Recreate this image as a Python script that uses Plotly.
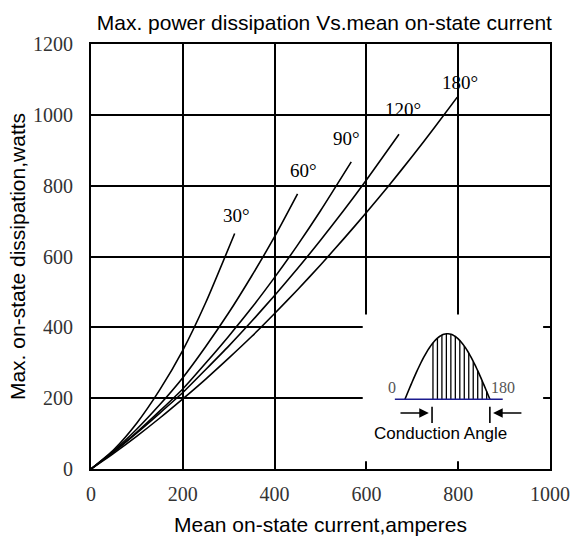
import numpy as np
import plotly.graph_objects as go

# ---- data ----
x_30 = [0, 50, 100, 150, 200, 250, 313]
y_30 = [0, 55, 130, 224, 335, 470, 665]

x_60 = [0, 50, 100, 150, 200, 250, 300, 350, 400, 450]
y_60 = [0, 52, 113, 182, 258, 346, 441, 545, 656, 777]

x_90 = [0, 50, 100, 150, 200, 250, 300, 350, 400, 450, 500, 567]
y_90 = [0, 49, 104, 164, 226, 299, 375, 455, 541, 632, 729, 867]

x_120 = [0, 50, 100, 150, 200, 250, 300, 350, 400, 450, 500, 550, 600, 671]
y_120 = [0, 49, 102, 158, 216, 281, 347, 417, 490, 566, 646, 729, 816, 945]

x_180 = [0, 50, 100, 150, 200, 250, 300, 350, 400, 450, 500, 550, 600, 650, 700, 750, 798]
y_180 = [0, 45, 93, 144, 198, 254, 313, 374, 439, 506, 576, 649, 724, 802, 883, 967, 1050]

curve_names = ["30°", "60°", "90°", "120°", "180°"]
label_x = [317, 462, 557, 680, 804]
label_y = [716, 844, 934, 1014, 1090]

x_ticks = [0, 200, 400, 600, 800, 1000]
y_ticks = [0, 200, 400, 600, 800, 1000, 1200]

series = [(x_30, y_30), (x_60, y_60), (x_90, y_90), (x_120, y_120), (x_180, y_180)]

SERIF = "Liberation Serif"
SANS = "Liberation Sans"

fig = go.Figure()
for (xs, ys), name in zip(series, curve_names):
    fig.add_trace(go.Scatter(x=xs, y=ys, mode="lines", name=name,
                             line=dict(color="black", width=1.6, shape="spline", smoothing=0.6),
                             showlegend=False, hoverinfo="x+y+name"))

annotations = []
for name, lx, ly in zip(curve_names, label_x, label_y):
    annotations.append(dict(x=lx, y=ly, xref="x", yref="y", text=name, showarrow=False,
                            font=dict(family=SERIF, size=19, color="black")))

# ---- inset diagram (conduction angle) ----
shapes = []
shapes.append(dict(type="rect", xref="x", yref="y", x0=592, x1=985, y0=22, y1=436,
                   fillcolor="white", line=dict(width=0), layer="above"))
# half-sine hump
hx0, hx1, hbase, hpeak = 684, 869, 197, 382
t = np.linspace(0, np.pi, 60)
px = hx0 + (hx1 - hx0) * t / np.pi
py = hbase + (hpeak - hbase) * np.sin(t)
path = "M " + " L ".join(f"{a:.2f},{b:.2f}" for a, b in zip(px, py))
shapes.append(dict(type="path", xref="x", yref="y", path=path,
                   line=dict(color="black", width=1.6), layer="above"))
# hatch lines
for hx in np.linspace(745, 862, 13):
    th = (hx - hx0) / (hx1 - hx0) * np.pi
    top = hbase + (hpeak - hbase) * np.sin(th)
    shapes.append(dict(type="line", xref="x", yref="y", x0=hx, x1=hx, y0=hbase, y1=top,
                       line=dict(color="black", width=1.3), layer="above"))
# base line
shapes.append(dict(type="line", xref="x", yref="y", x0=662, x1=897, y0=hbase, y1=hbase,
                   line=dict(color="#1c1c8f", width=1.6), layer="above"))
# bars for conduction angle
for bx in (743, 869):
    shapes.append(dict(type="line", xref="x", yref="y", x0=bx, x1=bx, y0=130, y1=176,
                       line=dict(color="black", width=1.6), layer="above"))

# arrows
annotations.append(dict(x=736, y=158, ax=671, ay=158, xref="x", yref="y", axref="x", ayref="y",
                        text="", showarrow=True, arrowhead=2, arrowsize=1.2, arrowwidth=1.6,
                        arrowcolor="black"))
annotations.append(dict(x=876, y=158, ax=941, ay=158, xref="x", yref="y", axref="x", ayref="y",
                        text="", showarrow=True, arrowhead=2, arrowsize=1.2, arrowwidth=1.6,
                        arrowcolor="black"))
annotations.append(dict(x=655, y=229, xref="x", yref="y", text="0", showarrow=False,
                        font=dict(family=SERIF, size=16, color="#555555")))
annotations.append(dict(x=898, y=229, xref="x", yref="y", text="180", showarrow=False,
                        font=dict(family=SERIF, size=16, color="#555555")))
annotations.append(dict(x=762, y=101, xref="x", yref="y", text="Conduction Angle", showarrow=False,
                        font=dict(family=SANS, size=17, color="black")))

axis_common = dict(showgrid=True, gridcolor="black", gridwidth=1.8, zeroline=False,
                   showline=True, linecolor="black", linewidth=2, mirror=True, ticks="",
                   automargin=False,
                   tickfont=dict(family=SERIF, size=20, color="#333333"))

fig.update_layout(
    template="none",
    width=572, height=538,
    font=dict(family=SERIF, color="black"),
    margin=dict(l=91, r=22, t=44, b=69),
    paper_bgcolor="white", plot_bgcolor="white",
    title=dict(text="Max. power dissipation Vs.mean on-state current",
               font=dict(family=SANS, size=21, color="black"),
               x=0.567, xanchor="center", y=0.957, yanchor="middle"),
    xaxis=dict(range=[0, 1000], tickvals=x_ticks, ticklabelstandoff=6,
               title=dict(text="Mean on-state current,amperes",
                          font=dict(family=SANS, size=21, color="black"), standoff=13),
               **axis_common),
    yaxis=dict(range=[0, 1200], tickvals=y_ticks, ticklabelstandoff=12,
               title=dict(text="Max. on-state dissipation,watts",
                          font=dict(family=SANS, size=21, color="black"), standoff=2),
               **axis_common),
    shapes=shapes,
    annotations=annotations,
)

fig.write_html("out.html")
